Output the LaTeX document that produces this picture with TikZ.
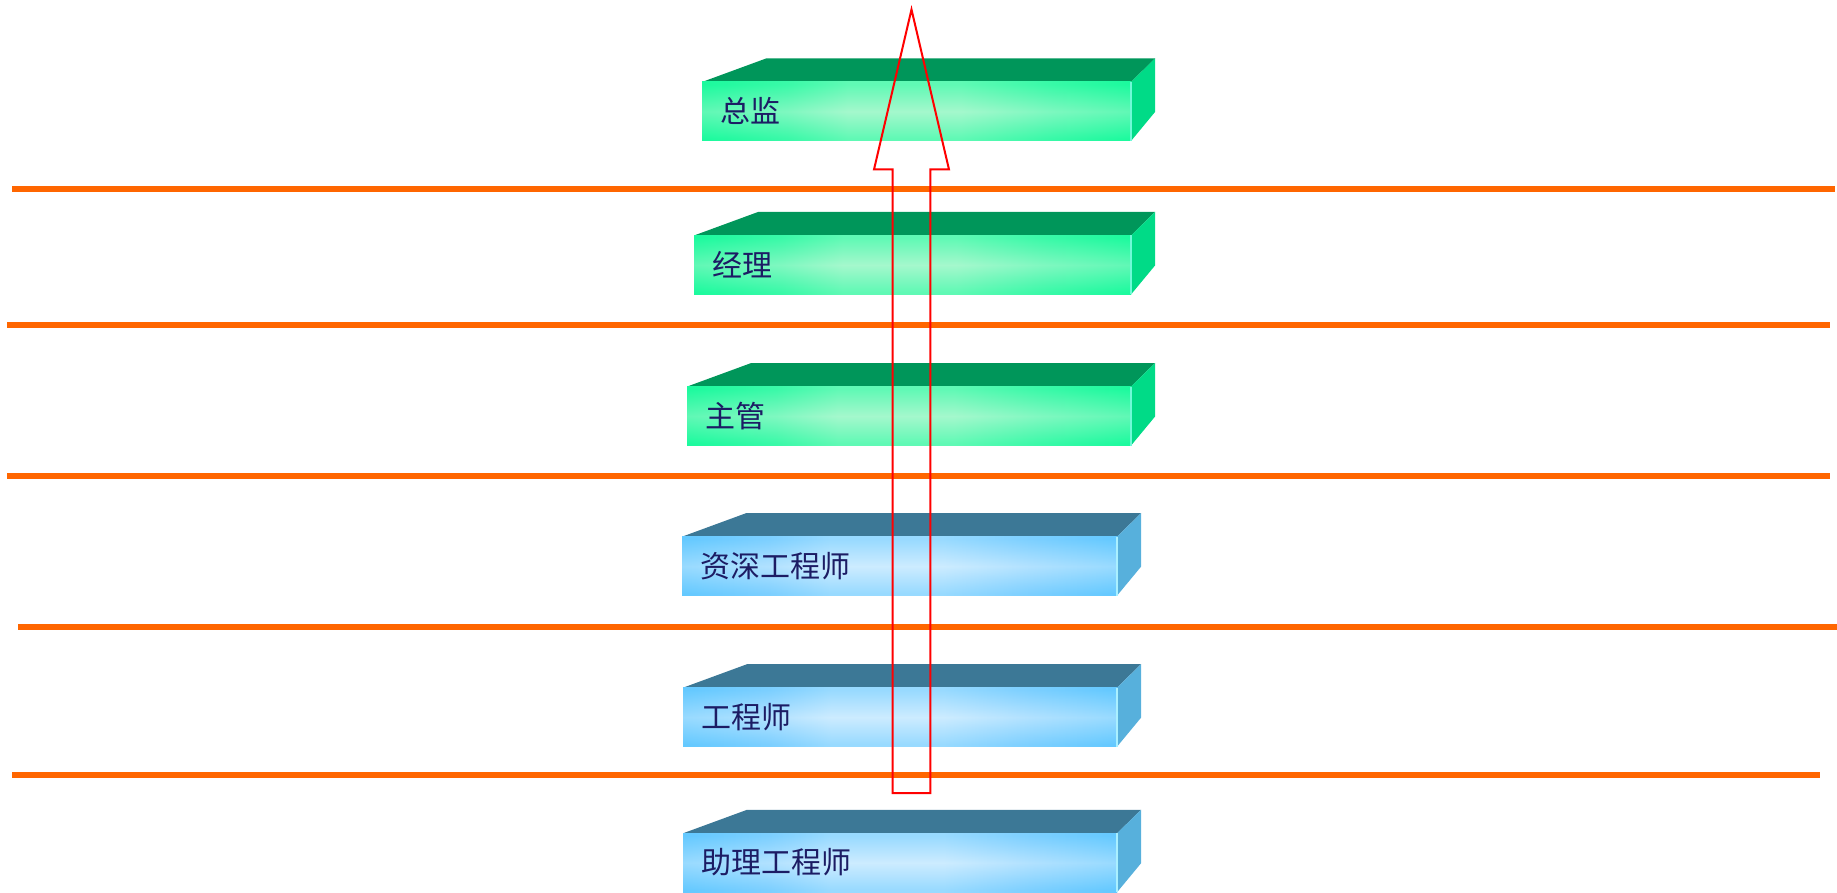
\documentclass[tikz,border=0pt]{standalone}
\usepackage{fontspec}
\newfontfamily\cjk{Noto Sans CJK SC}
\definecolor{gbase}{RGB}{28,250,158}
\definecolor{gmid}{RGB}{90,248,180}
\definecolor{glight}{RGB}{165,248,205}
\definecolor{gtop}{RGB}{0,150,90}
\definecolor{gside}{RGB}{0,219,135}
\definecolor{gedge}{RGB}{110,250,215}
\definecolor{bbase}{RGB}{100,201,255}
\definecolor{bmid}{RGB}{150,215,255}
\definecolor{blight}{RGB}{205,236,255}
\definecolor{btop}{RGB}{60,120,150}
\definecolor{bside}{RGB}{87,176,220}
\definecolor{bedge}{RGB}{170,240,255}
\definecolor{labelblue}{RGB}{28,28,100}
\definecolor{sepline}{RGB}{255,102,0}
\pgfdeclarehorizontalshading{gshadeh}{100bp}{color(0bp)=(gbase); color(25bp)=(gbase); color(35bp)=(gmid); color(42bp)=(glight); color(55bp)=(glight); color(65bp)=(gmid); color(75bp)=(gbase); color(100bp)=(gbase)}
\pgfdeclarehorizontalshading{bshadeh}{100bp}{color(0bp)=(bbase); color(25bp)=(bbase); color(35bp)=(bmid); color(42bp)=(blight); color(55bp)=(blight); color(65bp)=(bmid); color(75bp)=(bbase); color(100bp)=(bbase)}
\pgfdeclareverticalshading{gshadev}{100bp}{color(0bp)=(gbase); color(27bp)=(gbase); color(50bp)=(glight); color(73bp)=(gbase); color(100bp)=(gbase)}
\pgfdeclareverticalshading{bshadev}{100bp}{color(0bp)=(bbase); color(27bp)=(bbase); color(50bp)=(blight); color(73bp)=(bbase); color(100bp)=(bbase)}
\tikzset{
  sep/.style={draw=sepline, line width=6pt},
  barlabel/.style={anchor=west, inner sep=0pt, text=labelblue, font=\cjk\fontsize{30}{36}\selectfont},
  uparrow/.style={draw=red, line width=2pt, line join=miter}
}
% #1 left, #2 right, #3 top, #4 colour prefix, #5 node name, #6 label
\newcommand\drawbar[6]{%
  \fill[#4top] (#1,#3) -- ({#1+64},{#3-23.5}) -- ({#2+24},{#3-23.5}) -- (#2,#3) -- cycle;
  \fill[#4side] (#2,#3) -- ({#2+24},{#3-23.5}) -- ({#2+24},{#3+30}) -- (#2,{#3+59}) -- cycle;
  \shade[shading=#4shadeh] (#1,#3) rectangle (#2,{#3+59});
  \shade[shading=#4shadev, opacity=0.5] (#1,#3) rectangle (#2,{#3+59});
  \draw[#4edge, line width=1.2pt] (#2,#3) -- (#2,{#3+59});
  \node[barlabel] (#5) at ({#1+18},{#3+29}) {#6};
}
\begin{document}
\begin{tikzpicture}[x=1pt,y=-1pt]
\useasboundingbox (0,0) rectangle (1837,893);
% separator lines
\draw[sep] (12,189) -- (1835,189);
\draw[sep] (7,325) -- (1830,325);
\draw[sep] (7,476) -- (1830,476);
\draw[sep] (18,627) -- (1837,627);
\draw[sep] (12,774.5) -- (1820,774.5);
% bars
\drawbar{702}{1131}{82}{g}{zongjian}{总监}
\drawbar{694}{1131}{235.5}{g}{jingli}{经理}
\drawbar{687}{1131}{386.6}{g}{zhuguan}{主管}
\drawbar{682}{1117}{536.7}{b}{zishen}{资深工程师}
\drawbar{683}{1117}{687.7}{b}{gongcheng}{工程师}
\drawbar{683}{1117}{833.3}{b}{zhuli}{助理工程师}
% arrow
\draw[uparrow] (892.5,793) -- (892.5,169.5) -- (874,169.5) -- (911.5,9.5) -- (949,169.5) -- (930.3,169.5) -- (930.3,793) -- cycle;
\end{tikzpicture}
\end{document}
